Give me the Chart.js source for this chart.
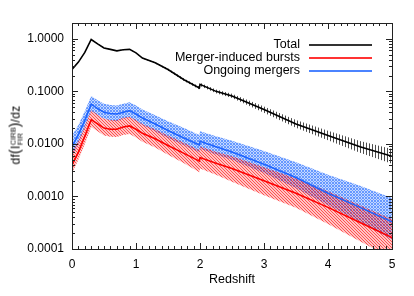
<!DOCTYPE html>
<html>
<head>
<meta charset="utf-8">
<script src="https://cdn.jsdelivr.net/npm/chart.js@4.4.0/dist/chart.umd.min.js"></script>
<style>
  html, body { margin: 0; padding: 0; background: #fff; }
  #wrap { position: relative; width: 414px; height: 296px; font-family: "Liberation Sans", Arial, sans-serif; color: #000; }
  #chart { position: absolute; left: 0; top: 0; }
  #ytitle { position: absolute; left: 15px; top: 135px; transform: translate(-50%, -50%) rotate(-90deg); white-space: nowrap; font-size: 12px; letter-spacing: 0.3px; }
  .stack { display: inline-block; vertical-align: middle; font-size: 7.5px; line-height: 7px; letter-spacing: 0; }
  .stack span { display: block; }
  .big { font-size: 14px; }
  .lg-text { position: absolute; right: 114px; font-size: 12.5px; line-height: 14px; white-space: nowrap; }
  .lg-line { position: absolute; left: 309px; width: 63px; height: 2px; opacity: 0.8; }
</style>
</head>
<body>
<div id="wrap">
  <canvas id="chart" width="414" height="296"></canvas>
  <div id="ytitle">df<span class="big">(</span>I<span class="stack"><span>CIRB</span><span>FIR</span></span><span class="big">)</span>/dz</div>
  <div id="legend"></div>
</div>
<script>
/* ------------------------------------------------------------------ */
/*  Redshift distribution of the far-IR background                    */
/* ------------------------------------------------------------------ */

const redshift = [0, 0.1, 0.2, 0.3, 0.4, 0.5, 0.6, 0.7, 0.8, 0.9, 1.0, 1.1, 1.3, 1.5, 1.75, 1.99, 2.0, 2.25, 2.5, 3.0, 3.5, 4.0, 4.5, 5.0];

const total      = [0.26, 0.36, 0.55, 0.97, 0.80, 0.67, 0.63, 0.59, 0.62, 0.63, 0.54, 0.43, 0.35, 0.26, 0.166, 0.116, 0.136, 0.10, 0.082, 0.045, 0.024, 0.0145, 0.0088, 0.0058];
const totalHigh  = [0.265, 0.367, 0.56, 0.99, 0.815, 0.683, 0.642, 0.601, 0.632, 0.642, 0.55, 0.438, 0.36, 0.271, 0.176, 0.124, 0.146, 0.108, 0.090, 0.0517, 0.0285, 0.0178, 0.0113, 0.0080];
const totalLow   = [0.255, 0.353, 0.54, 0.95, 0.785, 0.657, 0.618, 0.579, 0.608, 0.618, 0.53, 0.422, 0.34, 0.25, 0.157, 0.108, 0.127, 0.092, 0.075, 0.0392, 0.0202, 0.0118, 0.0068, 0.0042];

const ongoing     = [0.009, 0.015, 0.028, 0.057, 0.047, 0.040, 0.038, 0.037, 0.040, 0.043, 0.037, 0.031, 0.024, 0.018, 0.013, 0.0095, 0.0112, 0.0088, 0.0070, 0.0041, 0.0023, 0.00115, 0.00062, 0.00033];
const ongoingHigh = [0.0145, 0.023, 0.042, 0.082, 0.068, 0.058, 0.055, 0.054, 0.058, 0.062, 0.054, 0.045, 0.035, 0.027, 0.020, 0.0148, 0.0175, 0.014, 0.0115, 0.0073, 0.0045, 0.0026, 0.0016, 0.00093];
const ongoingLow  = [0.0058, 0.010, 0.020, 0.042, 0.035, 0.030, 0.028, 0.027, 0.030, 0.032, 0.027, 0.023, 0.0175, 0.013, 0.0094, 0.0069, 0.0081, 0.0063, 0.0050, 0.0028, 0.00145, 0.00068, 0.00033, 0.00015];

const bursts     = [0.0040, 0.0070, 0.014, 0.029, 0.024, 0.020, 0.019, 0.019, 0.021, 0.022, 0.019, 0.016, 0.0125, 0.0093, 0.0066, 0.0047, 0.0055, 0.0043, 0.0034, 0.0020, 0.00115, 0.00062, 0.00032, 0.000165];
const burstsHigh = [0.0070, 0.0115, 0.022, 0.044, 0.036, 0.030, 0.0285, 0.0285, 0.0315, 0.033, 0.0285, 0.024, 0.019, 0.0145, 0.0105, 0.0076, 0.0089, 0.0071, 0.0058, 0.0036, 0.0022, 0.00125, 0.00068, 0.00037];
const burstsLow  = [0.0028, 0.0050, 0.010, 0.021, 0.0175, 0.0145, 0.0137, 0.0135, 0.0148, 0.0155, 0.0132, 0.011, 0.0085, 0.0062, 0.0043, 0.0029, 0.0034, 0.0026, 0.0019, 0.00105, 0.00061, 0.00030, 0.00014, 0.000066];

const seriesNames = ['Total', 'Merger-induced bursts', 'Ongoing mergers'];
const seriesColors = ['#000000', '#ff0000', '#1e64ff'];
const xTicks = [0, 1, 2, 3, 4, 5];
const yDecades = [0.0001, 0.001, 0.01, 0.1, 1];

const FONT = '"Liberation Sans", Arial, sans-serif';

function pts(arr) {
    return redshift.map((z, i) => ({ x: z, y: arr[i] }));
}

// small repeating hatch tiles for the uncertainty bands
function hatch(kind, color, tint) {
    const c = document.createElement('canvas');
    c.width = 3;
    c.height = 3;
    const g = c.getContext('2d');
    if (tint) {
        g.fillStyle = tint;
        g.fillRect(0, 0, 3, 3);
    }
    g.fillStyle = color;
    if (kind === 'vert') {
        g.fillRect(0, 0, 1, 3);
    } else if (kind === 'back') {
        for (let i = 0; i < 3; i++) g.fillRect(i, i, 1, 1);
    } else {
        g.fillRect(0, 0, 1, 1);
        g.fillRect(1, 1, 1, 1);
        g.fillRect(2, 2, 1, 1);
        g.fillRect(2, 0, 1, 1);
        g.fillRect(0, 2, 1, 1);
    }
    return g.createPattern(c, 'repeat');
}

function line(label, data, color, order) {
    return { label: label, data: pts(data), borderColor: color, borderWidth: 1.6, pointRadius: 0, tension: 0, fill: false, order: order };
}

function band(data, fill, pattern, order) {
    return { data: pts(data), borderWidth: 0, pointRadius: 0, tension: 0, fill: fill, backgroundColor: pattern, order: order };
}

// IDL style frame with inward ticks on all four sides
const frameTicks = {
    id: 'frameTicks',
    afterDatasetsDraw(chart) {
        const { ctx, chartArea: a, scales } = chart;
        ctx.save();
        ctx.strokeStyle = '#222';
        ctx.lineWidth = 1;
        ctx.strokeRect(a.left + 0.5, a.top + 0.5, a.right - a.left, a.bottom - a.top);
        ctx.beginPath();
        for (let k = 0; k <= 50; k++) {
            const v = k / 10;
            const px = Math.round(scales.x.getPixelForValue(v)) + 0.5;
            const len = k % 10 === 0 ? 6 : 3;
            ctx.moveTo(px, a.bottom); ctx.lineTo(px, a.bottom - len);
            ctx.moveTo(px, a.top); ctx.lineTo(px, a.top + len);
        }
        yDecades.forEach(d => {
            for (let m = 1; m <= 9; m++) {
                const v = m * d;
                if (v > scales.y.max) break;
                const py = Math.round(scales.y.getPixelForValue(v)) + 0.5;
                const len = m === 1 ? 6 : 3;
                ctx.moveTo(a.left, py); ctx.lineTo(a.left + len, py);
                ctx.moveTo(a.right, py); ctx.lineTo(a.right - len, py);
            }
        });
        ctx.stroke();
        ctx.restore();
    }
};

document.addEventListener("DOMContentLoaded", function () {
    const config = {
        type: 'line',
        data: {
            datasets: [
                line(seriesNames[0], total, seriesColors[0], 0),
                line(seriesNames[2], ongoing, seriesColors[2], 0),
                line(seriesNames[1], bursts, seriesColors[1], 0),
                band(totalHigh, '+1', hatch('vert', 'rgba(0,0,0,0.7)', null), 3),
                band(totalLow, false, 'transparent', 3),
                band(ongoingHigh, '+1', hatch('cross', 'rgba(40,110,255,0.6)', 'rgba(40,110,255,0.28)'), 2),
                band(ongoingLow, false, 'transparent', 2),
                band(burstsHigh, '+1', hatch('back', 'rgba(255,20,20,0.65)', 'rgba(255,20,20,0.25)'), 1),
                band(burstsLow, false, 'transparent', 1)
            ]
        },
        options: {
            responsive: false,
            animation: false,
            layout: { padding: { left: 0, right: 22, top: 23, bottom: 0 } },
            plugins: { legend: { display: false }, tooltip: { enabled: false } },
            scales: {
                x: {
                    type: 'linear', min: 0, max: 5,
                    grid: { display: false, drawTicks: false },
                    border: { display: false },
                    afterBuildTicks: s => { s.ticks = xTicks.map(v => ({ value: v })); },
                    ticks: { padding: 8, color: '#000', maxRotation: 0, font: { family: FONT, size: 12 }, callback: v => String(v) },
                    title: { display: true, text: 'Redshift', color: '#000', font: { family: FONT, size: 12.5 }, padding: { top: 0, bottom: 9 } },
                    afterFit: s => { s.height = 47; }
                },
                y: {
                    type: 'logarithmic', min: 0.0001, max: 2,
                    grid: { display: false, drawTicks: false },
                    border: { display: false },
                    afterBuildTicks: s => { s.ticks = yDecades.map(v => ({ value: v })); },
                    ticks: { padding: 8, color: '#000', autoSkip: false, font: { family: FONT, size: 12 }, callback: v => v.toFixed(4) },
                    afterFit: s => { s.width = 72; }
                }
            }
        },
        plugins: [frameTicks]
    };

    new Chart(document.getElementById('chart').getContext('2d'), config);

    // legend: text first, then a short line sample
    const legend = document.getElementById('legend');
    const rowY = [45, 58, 71];
    seriesNames.forEach((name, i) => {
        const t = document.createElement('div');
        t.className = 'lg-text';
        t.style.top = (rowY[i] - 8) + 'px';
        t.textContent = name;
        const l = document.createElement('div');
        l.className = 'lg-line';
        l.style.top = (rowY[i] - 1) + 'px';
        l.style.background = seriesColors[i];
        legend.appendChild(t);
        legend.appendChild(l);
    });
});
</script>
</body>
</html>
